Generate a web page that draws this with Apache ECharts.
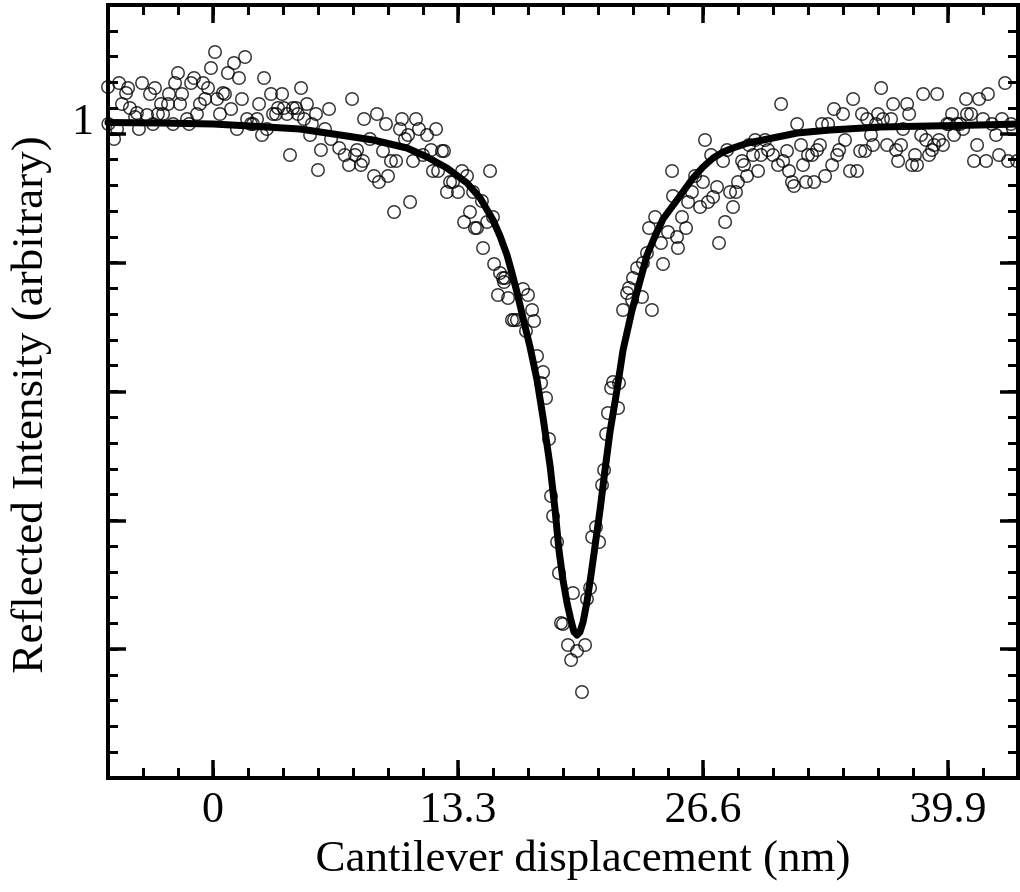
<!DOCTYPE html>
<html>
<head>
<meta charset="utf-8">
<script src="https://cdn.jsdelivr.net/npm/echarts@6/dist/echarts.min.js"></script>
<style>
html,body{margin:0;padding:0;background:#fff;}
#chart{width:1020px;height:892px;}
</style>
</head>
<body>
<div id="chart"></div>
<script>
// Measured points (x: cantilever displacement in nm, y: reflected intensity, arbitrary units)
const measuredPoints = [
[-5.70,1.035],[-5.68,0.998],[-5.37,0.983],[-5.21,0.993],[-5.10,1.039],[-4.94,1.018],[-4.72,1.029],[-4.61,1.034],[-4.51,1.014],[-4.23,1.005],
[-4.13,1.009],[-4.02,0.993],[-3.85,1.039],[-3.58,1.007],[-3.42,1.028],[-3.26,0.998],[-3.15,1.034],[-2.99,1.008],[-2.82,1.018],[-2.71,1.008],
[-2.44,1.018],[-2.39,1.028],[-2.17,0.998],[-2.06,1.039],[-1.90,1.049],[-1.79,1.018],[-1.68,1.028],[-1.41,1.003],[-1.30,0.998],[-1.19,1.039],
[-1.03,1.044],[-0.87,1.008],[-0.71,1.018],[-0.54,1.039],[-0.43,1.023],[-0.27,1.034],[-0.11,1.054],[0.11,1.070],[0.22,1.023],[0.38,1.008],
[0.54,1.029],[0.65,1.028],[0.81,1.049],[0.98,1.013],[1.14,1.059],[1.30,0.993],[1.41,1.044],[1.57,1.023],[1.74,1.065],[1.85,1.003],
[2.06,0.998],[2.17,0.998],[2.39,1.003],[2.50,1.018],[2.66,0.987],[2.77,1.044],[2.93,0.993],[3.15,1.028],[3.26,1.008],[3.42,1.008],
[3.53,1.014],[3.75,1.028],[3.85,1.014],[4.02,1.008],[4.18,0.967],[4.34,1.014],[4.51,1.014],[4.61,1.008],[4.78,1.034],[4.94,1.003],
[5.10,1.018],[5.27,0.987],[5.37,0.998],[5.59,1.008],[5.70,0.952],[5.86,0.972],[6.08,0.993],[6.30,1.013],[6.41,0.983],
[6.85,0.974],[7.15,0.967],[7.38,0.957],[7.55,1.023],[7.71,0.967],[7.82,0.972],[8.03,0.957],[8.14,0.961],[8.20,1.003],[8.52,0.983],
[8.74,0.946],[8.90,1.008],[9.01,0.940],[9.23,0.971],[9.39,0.998],[9.50,0.946],[9.66,0.961],[9.83,0.910],[9.94,0.961],[10.15,0.993],
[10.26,1.003],[10.42,0.983],[10.59,0.987],[10.70,0.920],[10.86,0.961],[11.02,1.003],[11.18,0.993],[11.40,0.967],[11.62,0.987],[11.84,0.972],
[11.94,0.951],[12.11,0.993],[12.22,0.951],[12.43,0.971],[12.54,0.971],[12.70,0.930],[12.87,0.940],[13.03,0.940],[13.30,0.930],[13.52,0.951],
[13.63,0.900],[13.79,0.946],[13.95,0.910],[14.12,0.930],[14.22,0.894],[14.33,0.894],[14.60,0.921],[14.66,0.874],[14.88,0.900],[15.04,0.951],
[15.20,0.905],[15.26,0.858],[15.58,0.849],[15.74,0.844],[15.85,0.844],[15.47,0.827],[16.02,0.824],[16.83,0.833],[17.10,0.827],
[15.80,0.840],[17.32,0.812],[17.43,0.801],[16.23,0.802],[16.34,0.802],[16.50,0.802],[16.99,0.791],[17.59,0.766],[17.92,0.750],[17.81,0.739],
[18.08,0.724],[18.24,0.683],[18.35,0.626],[18.46,0.606],[18.68,0.580],[18.78,0.549],
[19.54,0.529],[20.47,0.534],[20.30,0.523],[18.89,0.499],[19.00,0.498],[19.27,0.477],[19.76,0.471],[20.20,0.477],[19.44,0.462],[20.03,0.430],
[20.79,0.595],[20.58,0.585],[20.96,0.580],[21.23,0.652],[21.12,0.637],[21.34,0.688],[21.44,0.709],[21.99,0.714],[21.61,0.734],[21.72,0.740],
[22.04,0.739],[22.26,0.812],[22.75,0.822],[23.83,0.812],
[22.48,0.829],[22.58,0.834],[22.80,0.844],[23.02,0.854],[23.29,0.825],[23.34,0.859],[23.56,0.869],[23.67,0.894],[24.00,0.905],[24.32,0.879],
[24.43,0.858],[24.70,0.890],[24.92,0.951],[24.97,0.926],[25.19,0.885],[25.24,0.874],[25.46,0.905],
[25.68,0.894],[25.79,0.920],[26.00,0.930],[26.17,0.946],[26.44,0.915],[26.60,0.940],[26.71,0.982],[26.87,0.920],[27.04,0.967],[27.15,0.925],
[27.36,0.935],[27.47,0.879],[27.69,0.961],[27.80,0.900],[27.91,0.972],[28.07,0.930],[28.23,0.915],[28.39,0.930],[28.50,0.940],[28.72,0.961],
[28.83,0.957],[28.99,0.946],[29.10,0.977],[29.32,0.967],[29.43,0.982],[29.59,0.951],[29.75,0.967],[29.97,0.982],[30.13,0.972],[30.40,0.967],
[30.67,0.957],[30.84,1.018],[30.95,0.961],[31.16,0.971],[31.27,0.951],[31.43,0.940],[31.54,0.936],[31.71,0.998],[31.92,0.977],[32.03,0.957],
[32.19,0.940],[32.30,0.967],[32.52,0.967],[32.63,0.940],[32.79,0.972],[32.95,0.977],[33.06,0.998],[33.23,0.946],[33.39,0.998],[33.61,0.957],
[33.71,1.013],[33.88,0.967],[33.99,0.972],[34.20,1.008],[34.31,0.982],[34.58,0.951],[34.75,1.023],[34.96,0.951],[35.13,0.971],[35.23,1.008],
[35.40,0.971],[35.51,1.003],[35.72,0.987],[35.83,0.977],[35.99,0.998],[36.10,1.008],[36.27,1.034],[36.37,1.003],[36.59,0.977],[36.81,1.003],
[36.92,1.018],[37.08,0.972],[37.19,0.961],[37.35,0.977],[37.46,0.993],[37.68,1.018],[37.79,1.008],[37.95,0.957],[38.11,0.967],[38.22,0.957],
[38.44,0.987],[38.55,1.028],[38.71,0.982],[38.87,0.967],[39.03,0.972],[39.14,0.977],[39.31,1.028],[39.41,0.982],[39.63,0.977],[39.85,0.998],
[39.96,0.998],[40.12,1.008],[40.23,0.987],[40.39,0.998],[40.56,0.998],[40.72,0.993],[40.88,1.023],[40.93,1.008],[41.15,1.008],[41.31,0.961],
[41.48,0.977],[41.59,1.023],[41.80,1.003],[41.97,0.961],[42.07,1.028],[42.29,0.998],[42.51,0.987],[42.67,0.967],[42.83,1.003],[43.00,1.039],
[43.16,0.961],[43.32,0.998],[43.43,0.993],[43.65,0.961]
];

// Fitted curve
const fitCurve = [
[-5.70,0.9995],[-2.88,0.999],[0,0.998],[2.01,0.996],[4.72,0.993],[6.90,0.987],[8.69,0.982],[10.53,0.974],[11.62,0.965],[12.70,0.954],
[13.79,0.939],[14.50,0.924],[15.20,0.902],[15.58,0.886],[15.96,0.867],[16.23,0.849],[16.50,0.830],[16.83,0.804],[17.21,0.775],[17.59,0.742],
[17.92,0.704],[18.30,0.656],[18.57,0.612],[18.78,0.572],[19.00,0.542],[19.22,0.519],[19.44,0.501],[19.60,0.490],[19.76,0.487],[19.92,0.490],
[20.09,0.500],[20.30,0.520],[20.52,0.547],[20.74,0.576],[21.01,0.612],[21.28,0.652],[21.55,0.690],[21.93,0.732],[22.26,0.772],[22.75,0.812],
[23.18,0.841],[23.56,0.867],[24.00,0.886],[24.43,0.903],[25.35,0.926],[26.06,0.944],[26.60,0.955],[27.15,0.964],[27.69,0.970],[28.23,0.974],
[29.04,0.979],[29.86,0.982],[31.71,0.989],[33.50,0.992],[36.21,0.995],[38.93,0.996],[41.64,0.997],[43.70,0.998]
];

const xRange = [-5.7, 43.7];
const xMajorTicks = [0, 13.3, 26.6, 39.9];
const xMinorStep = 1.9;
const yRange = [0.344, 1.117];
const yLabelValues = [1];
const yTickRange = [0, 30];   // tick scale: 6 major divisions, 5 minor each
const xTitle = 'Cantilever displacement (nm)';
const yTitle = 'Reflected Intensity (arbitrary)';

const FONT = "'Liberation Serif','Times New Roman','DejaVu Serif',serif";
const BLACK = '#000';

function xAx(pos, major, withLabels) {
  return {
    type: 'value', position: pos, min: xRange[0], max: xRange[1],
    interval: major ? undefined : xMinorStep,
    axisLine: { show: major, onZero: false, lineStyle: { color: BLACK, width: 4, cap: 'square' } },
    axisTick: major
      ? { show: true, inside: true, length: 18, customValues: xMajorTicks, lineStyle: { color: BLACK, width: 3.5 } }
      : { show: true, inside: true, length: 10, lineStyle: { color: BLACK, width: 3 } },
    axisLabel: withLabels
      ? { show: true, customValues: xMajorTicks, margin: 10, color: BLACK, fontSize: 44, fontFamily: FONT }
      : { show: false },
    splitLine: { show: false }
  };
}
function yTickAx(pos, major, withLine) {
  return {
    type: 'value', position: pos, min: yTickRange[0], max: yTickRange[1],
    interval: major ? 5 : 1,
    axisLine: { show: withLine, onZero: false, lineStyle: { color: BLACK, width: 4, cap: 'square' } },
    axisTick: { show: true, inside: true, length: major ? 18 : 10, lineStyle: { color: BLACK, width: major ? 3.5 : 3 } },
    axisLabel: { show: false },
    splitLine: { show: false }
  };
}

const xMain = xAx('bottom', true, true);
xMain.name = xTitle;
xMain.nameLocation = 'middle';
xMain.nameGap = 56;
xMain.nameTextStyle = { color: BLACK, fontSize: 45, fontFamily: FONT, padding: [0, 0, 0, 40] };

const option = {
  animation: false,
  backgroundColor: '#fff',
  grid: { left: 108, right: 2, top: 5, bottom: 114, containLabel: false },
  xAxis: [
    xMain,
    xAx('bottom', false, false),
    xAx('top', true, false),
    xAx('top', false, false)
  ],
  yAxis: [
    {
      type: 'value', position: 'left', min: yRange[0], max: yRange[1],
      axisLine: { show: true, onZero: false, lineStyle: { color: BLACK, width: 4, cap: 'square' } },
      axisTick: { show: false },
      axisLabel: { show: true, customValues: yLabelValues, margin: 14, color: BLACK, fontSize: 44, fontFamily: FONT },
      splitLine: { show: false },
      name: yTitle, nameLocation: 'middle', nameGap: 55,
      nameTextStyle: { color: BLACK, fontSize: 45, fontFamily: FONT, padding: [0, 27, 0, 0] }
    },
    yTickAx('left', true, false),
    yTickAx('left', false, false),
    yTickAx('right', true, true),
    yTickAx('right', false, false)
  ],
  series: [
    {
      type: 'scatter', xAxisIndex: 0, yAxisIndex: 0,
      data: measuredPoints,
      symbol: 'circle', symbolSize: 12.5,
      itemStyle: { color: 'rgba(0,0,0,0)', borderColor: BLACK, borderWidth: 1.5 },
      z: 2
    },
    {
      type: 'line', xAxisIndex: 0, yAxisIndex: 0,
      data: fitCurve,
      showSymbol: false, symbol: 'none', smooth: false,
      lineStyle: { color: BLACK, width: 7, join: 'round', cap: 'round' },
      z: 3
    }
  ]
};

const chart = echarts.init(document.getElementById('chart'), null, { renderer: 'canvas' });
chart.setOption(option);
</script>
</body>
</html>
